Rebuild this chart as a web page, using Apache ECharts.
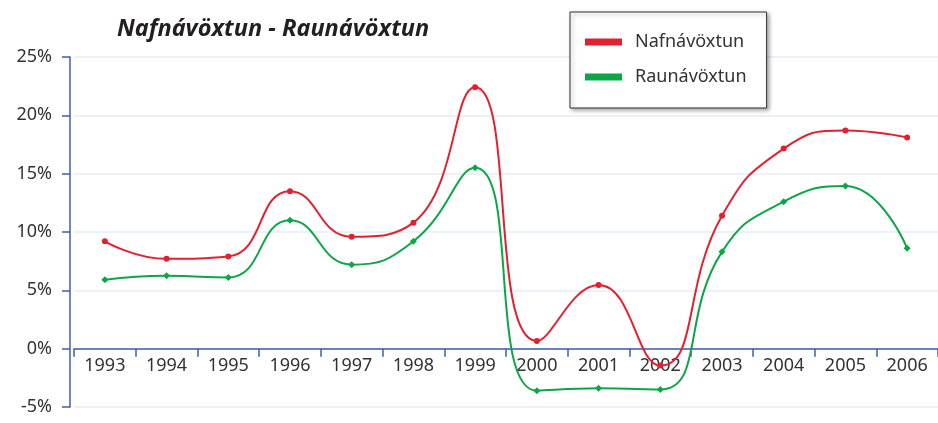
<!DOCTYPE html>
<html>
<head>
<meta charset="utf-8">
<script src="https://cdn.jsdelivr.net/npm/echarts@6/dist/echarts.min.js"></script>
<style>
  html, body { margin: 0; padding: 0; background: #fff; }
  #chart { width: 938px; height: 423px; }
</style>
</head>
<body>
<div id="chart"></div>
<script>
const years = ['1993', '1994', '1995', '1996', '1997', '1998', '1999',
  '2000', '2001', '2002', '2003', '2004', '2005', '2006'];
// Nafnávöxtun (nominal return), %
const nafn = [9.2, 7.7, 7.9, 13.5, 9.6, 10.8, 22.4, 0.65, 5.45, -1.45, 11.4, 17.15, 18.7, 18.1];
// Raunávöxtun (real return), %
const raun = [5.9, 6.25, 6.1, 11.0, 7.2, 9.2, 15.5, -3.6, -3.4, -3.5, 8.3, 12.6, 13.95, 8.6];

const font = 'Noto Sans';
const axisBlue = '#3d5fad';

const chart = echarts.init(document.getElementById('chart'));

chart.setOption({
  animation: false,
  title: {
    text: 'Nafnávöxtun - Raunávöxtun',
    left: 112,
    top: 13,
    textStyle: {
      fontFamily: font,
      fontSize: 23.5,
      fontWeight: 'bold',
      fontStyle: 'italic',
      color: '#231f20'
    }
  },
  legend: {
    orient: 'vertical',
    left: 570,
    top: 12,
    padding: [21, 20, 22, 15],
    itemGap: 17,
    itemWidth: 37,
    itemHeight: 7,
    icon: 'rect',
    backgroundColor: '#fff',
    borderColor: '#333',
    borderWidth: 1,
    shadowColor: 'rgba(0,0,0,0.35)',
    shadowBlur: 4,
    shadowOffsetX: 2,
    shadowOffsetY: 2,
    textStyle: {
      fontFamily: font,
      fontSize: 18,
      color: '#333',
      padding: [0, 0, 0, 8]
    },
    data: ['Nafnávöxtun', 'Raunávöxtun']
  },
  grid: {
    left: 74,
    right: 0,
    top: 57,
    bottom: 16,
    outerBoundsMode: 'none'
  },
  xAxis: {
    type: 'category',
    data: years,
    boundaryGap: true,
    axisLine: { onZero: true, lineStyle: { color: axisBlue, width: 1.5 } },
    axisTick: { show: true, length: 8, inside: false, lineStyle: { color: axisBlue, width: 1.5 } },
    axisLabel: {
      fontFamily: font,
      fontSize: 18,
      color: '#333',
      margin: -50
    },
    splitLine: { show: false }
  },
  yAxis: {
    type: 'value',
    min: -5,
    max: 25,
    interval: 5,
    offset: 4,
    axisLine: { show: true, lineStyle: { color: axisBlue, width: 1.5 } },
    axisTick: { show: true, length: 8, lineStyle: { color: axisBlue, width: 1.5 } },
    axisLabel: {
      fontFamily: font,
      fontSize: 18,
      color: '#333',
      margin: 18,
      formatter: '{value}%'
    },
    splitLine: { show: true, lineStyle: { color: '#e4ecf4', width: 1.5 } }
  },
  series: [
    {
      name: 'Nafnávöxtun',
      type: 'line',
      data: nafn,
      smooth: 0.5,
      symbol: 'circle',
      symbolSize: 6,
      color: '#e3202f',
      lineStyle: { width: 2, color: '#e3202f' },
      itemStyle: { color: '#e3202f' }
    },
    {
      name: 'Raunávöxtun',
      type: 'line',
      data: raun,
      smooth: 0.5,
      symbol: 'diamond',
      symbolSize: 7,
      color: '#0ca647',
      lineStyle: { width: 2, color: '#0ca647' },
      itemStyle: { color: '#0ca647' }
    }
  ]
});
</script>
</body>
</html>
